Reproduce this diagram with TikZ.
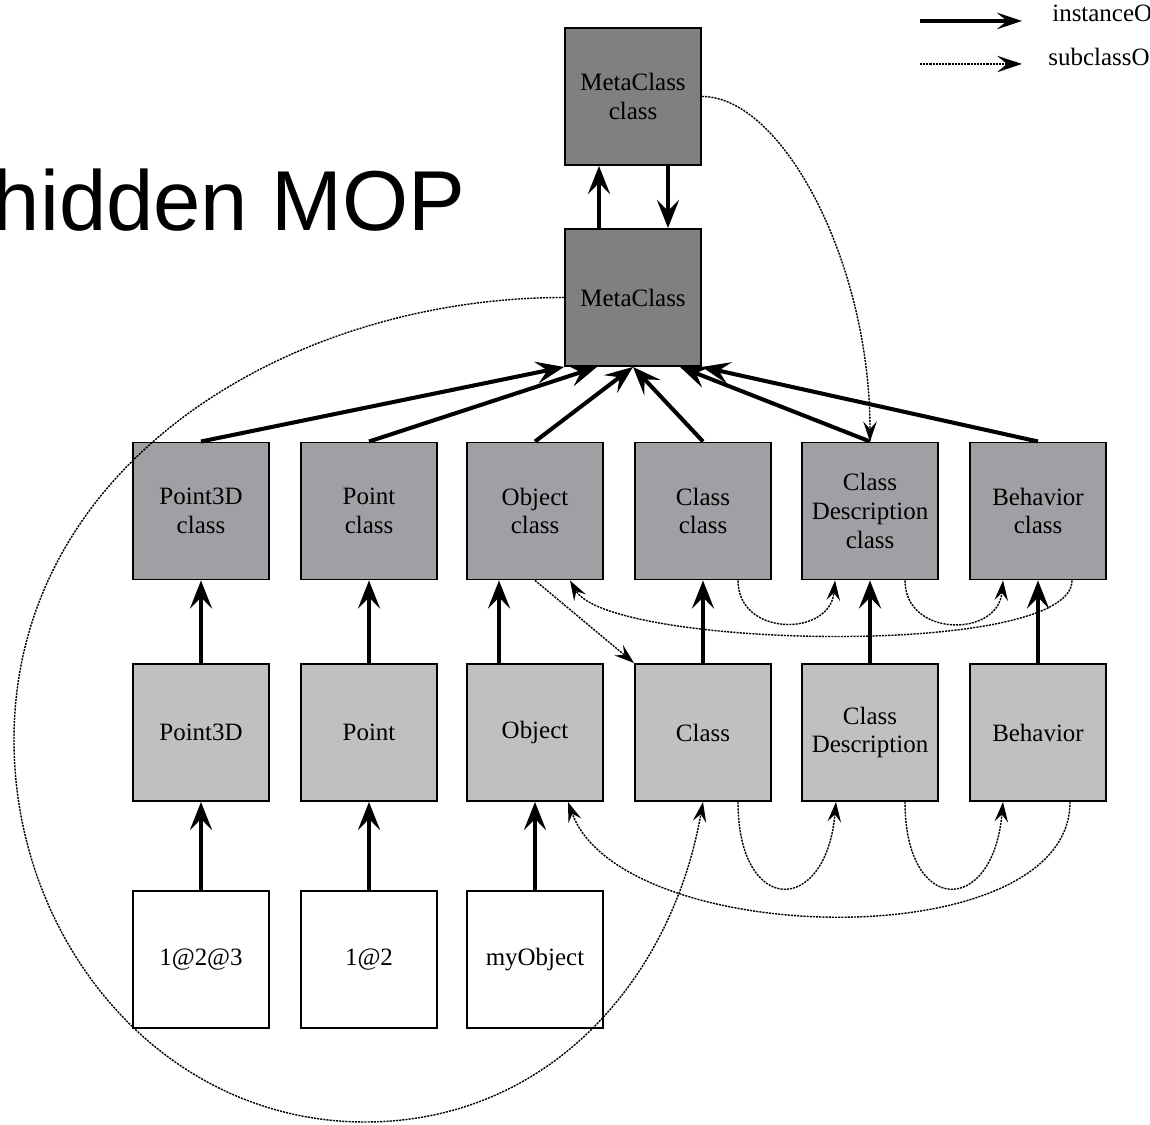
\documentclass[tikz,border=0pt]{standalone}
\usepackage{fontspec}
\setmainfont{Liberation Serif}
\newfontfamily\titlefont{Liberation Sans}
\usetikzlibrary{arrows.meta}
\definecolor{metagray}{RGB}{128,128,128}
\definecolor{classgray}{RGB}{160,160,164}
\definecolor{plaingray}{RGB}{192,192,192}
\tikzset{
mopbox/.style={draw, line width=1.1pt, minimum width=2.72cm, minimum height=2.74cm,
  align=center, inner sep=0pt, font=\fontsize{14.2pt}{16.3pt}\selectfont},
metabox/.style={mopbox, fill=metagray},
classbox/.style={mopbox, fill=classgray},
plainbox/.style={mopbox, fill=plaingray},
instbox/.style={mopbox, fill=white},
inst/.style={line width=2.3pt, -{Stealth[length=0.56cm, width=0.44cm, inset=0.22cm]}},
subcls/.style={line width=0.8pt, dash pattern=on 1.2pt off 0.6pt,
  -{Stealth[length=0.4cm, width=0.27cm, inset=0.15cm]}},
legtip/.style={-{Stealth[length=0.5cm, width=0.33cm, inset=0.2cm]}}
}

\begin{document}
\begin{tikzpicture}
  \useasboundingbox (0,0) rectangle (23,22.5);

  % title and legend
  \node[anchor=base east, inner sep=0pt, font=\titlefont\fontsize{48.4pt}{50pt}\selectfont] (title) at (9.32,17.88) {hidden MOP};
  \coordinate (lia) at (18.4,22.08);
  \coordinate (lib) at (20.44,22.08);
  \coordinate (lsa) at (18.4,21.22);
  \coordinate (lsb) at (20.44,21.22);
  \draw[inst, legtip] (lia) -- (lib);
  \draw[subcls, legtip] (lsa) -- (lsb);
  \node[anchor=base west, inner sep=0pt, font=\fontsize{14.2pt}{16.3pt}\selectfont] (linst) at (21.04,22.06) {instanceOf};
  \node[anchor=base west, inner sep=0pt, font=\fontsize{14.2pt}{16.3pt}\selectfont] (lsub) at (20.96,21.18) {subclassOf};

  % meta level
  \node[metabox] (mcc) at (12.66,20.57) {MetaClass\\class};
  \node[metabox] (mc) at (12.66,16.55) {MetaClass};

  % class row
  \node[classbox] (p3c) at (4.02,12.28) {Point3D\\class};
  \node[classbox] (pc) at (7.38,12.28) {Point\\class};
  \node[classbox] (oc) at (10.70,12.28) {Object\\class};
  \node[classbox] (cc) at (14.06,12.28) {Class\\class};
  \node[classbox] (cdc) at (17.40,12.28) {Class\\Description\\class};
  \node[classbox] (bc) at (20.76,12.28) {Behavior\\class};

  % plain row
  \node[plainbox] (p3) at (4.02,7.85) {Point3D};
  \node[plainbox] (pt) at (7.38,7.85) {Point};
  \node[plainbox] (ob) at (10.70,7.85) {Object};
  \node[plainbox] (cl) at (14.06,7.85) {Class};
  \node[plainbox] (cd) at (17.40,7.85) {Class\\Description};
  \node[plainbox] (bh) at (20.76,7.85) {Behavior};

  % instances
  \node[instbox] (i3) at (4.02,3.31) {1@2@3};
  \node[instbox] (i2) at (7.38,3.31) {1@2};
  \node[instbox] (io) at (10.70,3.31) {myObject};

  % instanceOf
  \draw[inst] ([xshift=-0.68cm]mc.north) -- ([xshift=-0.68cm]mcc.south);
  \draw[inst] ([xshift=0.7cm]mcc.south) -- ([xshift=0.7cm]mc.north);
  \draw[inst] (p3c.north) -- (mc.south west);
  \draw[inst] (pc.north) -- ([xshift=-0.72cm]mc.south);
  \draw[inst] (oc.north) -- (mc.south);
  \draw[inst] (cc.north) -- (mc.south);
  \draw[inst] (cdc.north) -- ([xshift=0.94cm]mc.south);
  \draw[inst] (bc.north) -- (mc.south east);
  \draw[inst] (p3.north) -- (p3c.south);
  \draw[inst] (pt.north) -- (pc.south);
  \draw[inst] ([xshift=-0.72cm]ob.north) -- ([xshift=-0.72cm]oc.south);
  \draw[inst] (cl.north) -- (cc.south);
  \draw[inst] (cd.north) -- (cdc.south);
  \draw[inst] (bh.north) -- (bc.south);
  \draw[inst] (i3.north) -- (p3.south);
  \draw[inst] (i2.north) -- (pt.south);
  \draw[inst] (io.north) -- (ob.south);

  % subclassOf
  \draw[subcls] (mcc.east) .. controls +(1.6,0) and +(0,3.6) .. (cdc.north);
  \coordinate (lw) at (0.28,7.70);
  \coordinate (lb) at (7.30,0.06);
  \draw[subcls] (mc.west) to[out=180,in=90] (lw) to[out=-90,in=180] (lb) to[out=0,in=-100] (cl.south);
  \draw[subcls] (oc.south) -- (cl.north west);
  \draw[subcls] ([xshift=0.7cm]cc.south) to[out=-90,in=-95,looseness=1.5] ([xshift=-0.7cm]cdc.south);
  \draw[subcls] ([xshift=0.7cm]cdc.south) to[out=-90,in=-95,looseness=1.5] ([xshift=-0.7cm]bc.south);
  \draw[subcls] ([xshift=0.68cm]bc.south) to[out=-90,in=-60,looseness=0.4] ([xshift=0.7cm]oc.south);
  \draw[subcls] ([xshift=0.7cm]cl.south) to[out=-90,in=-95,looseness=3] ([xshift=-0.68cm]cd.south);
  \draw[subcls] ([xshift=0.7cm]cd.south) to[out=-90,in=-95,looseness=3] ([xshift=-0.7cm]bh.south);
  \draw[subcls] ([xshift=0.64cm]bh.south) to[out=-90,in=-70,looseness=0.8] ([xshift=0.66cm]ob.south);

\end{tikzpicture}
\end{document}
